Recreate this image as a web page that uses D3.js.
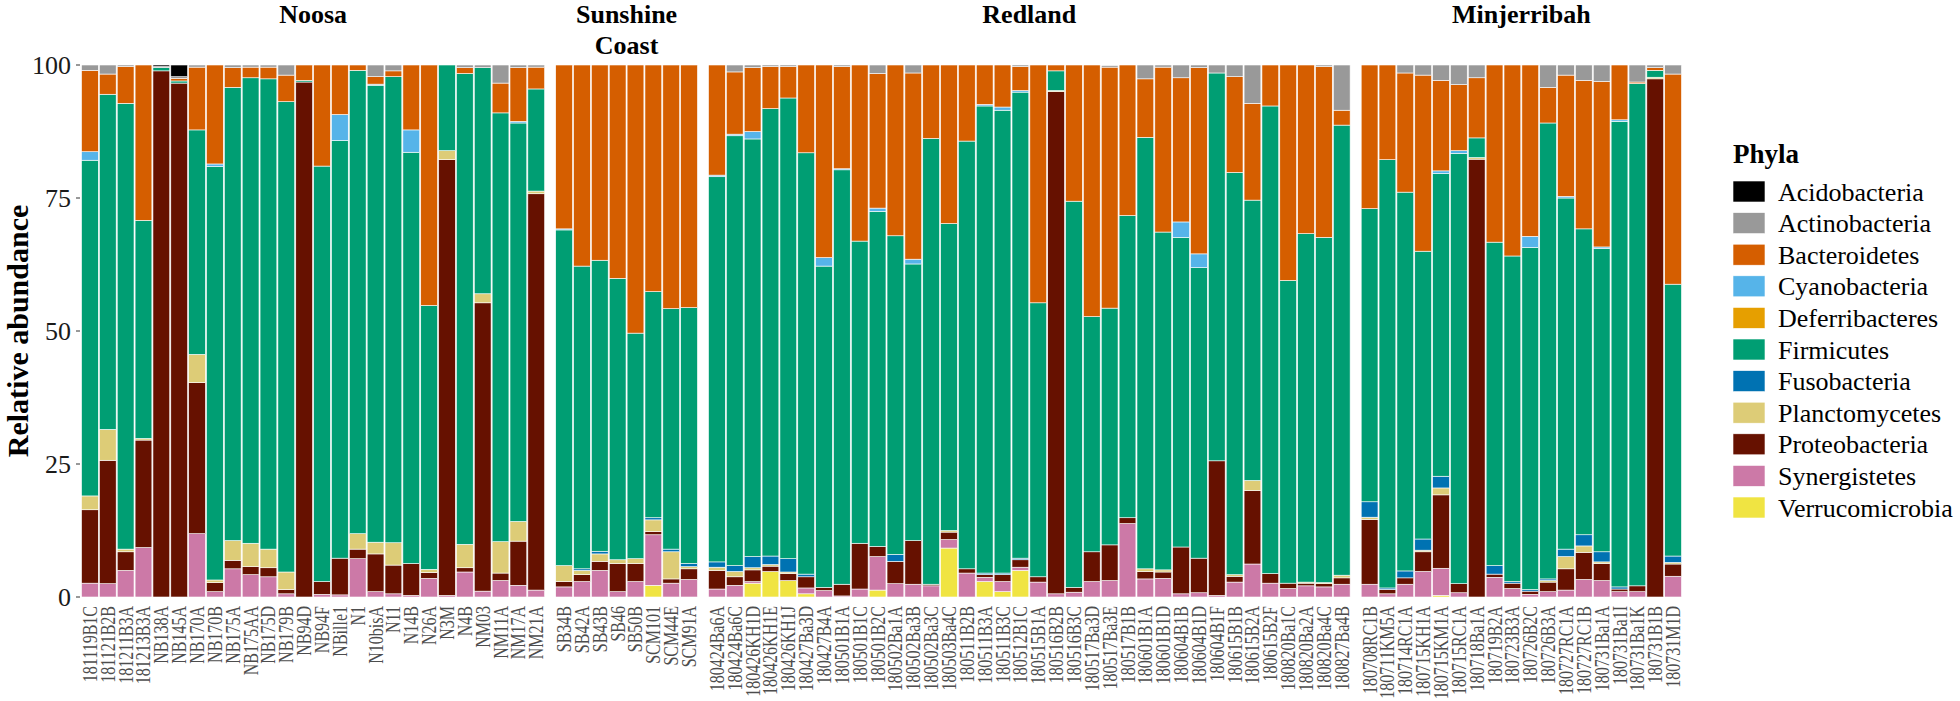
<!DOCTYPE html>
<html><head><meta charset="utf-8">
<script src="https://cdn.jsdelivr.net/npm/d3@7"></script>
<style>body{margin:0;background:#fff}</style>
</head><body><svg id="chart" width="1960" height="701"></svg>
<script>
// ---------- DATA ----------
const siteNames = ["Noosa", "Sunshine Coast", "Redland", "Minjerribah"];
const noosaSamples = ["181119B1C","181121B2B","181211B3A","181213B3A","NB138A","NB145A","NB170A","NB170B","NB175A","NB175AA","NB175D","NB179B","NB94D","NB94F","NBille1","N1","N10bisA","N11","N14B","N26A","N3M","N4B","NM03","NM11A","NM17A","NM21A"];
const sunshineSamples = ["SB34B","SB42A","SB43B","SB46","SB50B","SCM101","SCM44E","SCM91A"];
const redlandSamples = ["180424Ba6A","180424Ba6C","180426KH1D","180426KH1E","180426KH1J","180427Ba3D","180427B4A","180501B1A","180501B1C","180501B2C","180502Ba1A","180502Ba3B","180502Ba3C","180503Ba4C","180511B2B","180511B3A","180511B3C","180512B1C","180515B1A","180516B2B","180516B3C","180517Ba3D","180517Ba3E","180517B1B","180601B1A","180601B1D","180604B1B","180604B1D","180604B1F","180615B1B","180615B2A","180615B2F","180820Ba1C","180820Ba2A","180820Ba4C","180827Ba4B"];
const minjerribahSamples = ["180708RC1B","180711KM5A","180714RC1A","180715KH1A","180715KM1A","180715RC1A","180718Ba1A","180719B2A","180723B3A","180726B2C","180726B3A","180727RC1A","180727RC1B","180731Ba1A","180731Ba1I","180731Ba1K","180731B1B","180731M1D"];

const phyla = ["Acidobacteria","Actinobacteria","Bacteroidetes","Cyanobacteria","Deferribacteres","Firmicutes","Fusobacteria","Planctomycetes","Proteobacteria","Synergistetes","Verrucomicrobia"];
const phylaColors = ["#000000","#999999","#D55E00","#56B4E9","#E69F00","#009E73","#0072B2","#DDCC77","#661100","#CC79A7","#F0E442"];
const yTicks = [0, 25, 50, 75, 100];

// Relative abundance (%) per phylum, samples in order: Noosa | Sunshine Coast | Redland | Minjerribah
const acidobacteria = [
  0,0,0,0,0.3,2.2,0,0,0,0,0,0,0,0,0,0,0,0,0,0,0,0,0,0,0,0,
  0,0,0,0,0,0,0,0,
  0,0,0,0,0,0,0,0,0,0,0,0,0,0,0,0,0,0,0,0,0,0,0,0,0,0,0,0,0,0,0,0,0,0,0,0,
  0,0,0,0,0,0,0,0,0,0,0,0,0,0,0,0,0,0];
const actinobacteria = [
  1.0,1.7,0.3,0,0.2,0.3,0.4,0,0.5,0.4,0.4,1.9,0,0,0,0,2.2,1.1,0,0,0,0.5,0.5,3.4,0.5,0.4,
  0,0,0,0,0,0,0,0,
  0,1.3,0.5,0.3,0.3,0,0,0.3,0,1.6,0,1.5,0,0,0,0,0,0.3,0,0,0,0,0.3,0,2.6,0.4,2.4,0.5,1.5,2.2,7.2,0,0,0,0.3,8.5,
  0,0,1.5,1.9,2.9,3.7,2.4,0,0,0,4.2,1.9,2.9,3.1,0,3.2,0.5,1.7];
const bacteroidetes = [
  15.3,3.8,6.9,29.2,0,0.5,11.8,18.6,3.7,2.0,2.2,5.0,2.9,19.0,9.3,1.0,1.4,1.1,12.2,45.2,0,1.1,0,5.6,10.1,4.1,
  30.8,37.8,36.7,40.1,50.4,42.6,45.8,45.6,
  20.7,11.7,12.0,7.9,5.9,16.5,36.2,19.2,33.1,25.3,32.1,35.0,13.8,29.8,14.3,7.4,7.9,4.5,44.7,1.1,25.6,47.3,45.3,28.3,11.0,31.0,27.1,35.0,0,18.0,18.2,7.7,40.5,31.7,32.1,2.8,
  27.0,17.8,22.4,33.1,17.0,12.4,11.3,33.3,35.9,32.2,6.7,22.8,27.9,31.1,10.3,0.3,0.5,39.5];
const cyanobacteria = [
  1.6,0,0,0,0,0,0,0.5,0,0,0,0,0,0,4.9,0,0.2,0,4.2,0,0,0,0,0,0.3,0,
  0.2,0,0,0,0,0,0,0,
  0.3,0.3,1.4,0,0,0,1.6,0.2,0,0.6,0,0.9,0,0,0,0.3,0.6,0.3,0,0,0,0,0,0,0,0,2.9,2.6,0,0,0,0,0,0,0,0,
  0,0,0,0,0.5,0.5,0,0,0,2.1,0,0.3,0,0.3,0.3,0,0,0];
const deferribacteres = [
  0,0,0,0,0,0,0,0,0,0,0,0,0,0,0,0,0,0,0,0,0,0,0,0,0,0,
  0,0,0,0,0,0,0,0,
  0,0,0,0,0,0,0,0,0,0,0,0,0,0,0,0,0,0,0,0,0,0,0,0,0,0,0,0,0,0,0,0,0,0,0,0,
  0,0,0,0,0,0,0,0,0,0,0,0,0,0,0,0,0,0];
const firmicutes = [
  63.1,63.0,83.8,41.0,0.6,0.4,42.2,77.7,85.2,87.5,88.4,88.4,0.3,78.1,78.5,87.1,85.9,87.6,77.3,49.6,16.1,88.5,42.5,80.6,74.9,19.2,
  63.1,56.9,54.7,52.9,42.4,42.5,45.2,48.1,
  72.4,80.8,78.5,84.1,86.6,79.2,60.4,77.9,56.8,63.0,59.9,52.0,83.8,57.7,80.4,87.8,87.0,87.6,51.5,3.7,72.6,44.2,44.5,56.8,81.1,63.5,58.2,54.6,72.9,75.6,52.7,87.9,56.9,65.5,64.9,84.6,
  55.1,80.5,71.2,54.1,56.9,80.9,3.7,60.8,61.2,64.3,85.7,66.0,57.5,57.0,87.5,94.4,1.3,51.1];
const fusobacteria = [
  0,0,0,0,0,0,0,0,0,0,0,0,0,0,0,0,0,0,0,0,0,0,0,0,0,0,
  0,0.3,0.5,0,0,0.4,0.5,0.6,
  1.0,1.1,2.1,1.6,2.5,0.5,0,0,0,0,1.3,0,0,0,0,0.3,0.3,0.3,0,0,0,0,0,0,0,0,0,0,0,0,0,0,0,0,0,0,
  2.9,0.3,1.3,2.1,2.2,0,0,1.6,0.3,0.3,0.3,1.4,2.1,1.9,0.4,0,0,1.2];
const planctomycetes = [
  2.6,5.8,0.5,0.3,0,0,5.3,0.5,3.7,4.4,3.5,3.3,0,0,0,2.9,2.2,4.2,0,0.6,1.7,4.4,1.7,5.9,3.7,0.5,
  3.0,0.8,1.4,0.7,0.9,2.2,5.1,0.4,
  0.6,1.0,0.4,0.3,0.3,0,0,0,0,0,0,0,0,0.3,0,0,0,0,0,0.2,0,0,0,0,0.5,0.4,0,0,0,0.3,1.9,0,0,0.2,0.2,0.5,
  0.4,0,0,0.3,1.3,0,0.3,0,0,0,0.3,2.3,1.2,0.3,0,0,0.3,0.3];
const proteobacteria = [
  13.8,23.2,3.5,20.2,98.9,96.6,28.4,1.7,1.6,1.5,1.7,0.8,96.8,2.4,6.9,1.8,7.1,5.4,6.0,1.1,81.9,0.8,54.2,1.4,8.3,74.5,
  1.0,1.3,1.7,5.3,3.4,0.6,0.8,2.0,
  3.5,1.6,2.2,1.0,1.3,2.1,0.6,2.2,8.6,1.9,4.2,8.2,0.3,1.4,0.8,0.5,1.3,1.4,1.0,94.4,0.9,5.6,6.7,1.1,1.4,1.2,8.8,6.5,25.3,1.1,13.8,1.8,1.0,0.5,0.6,1.2,
  12.2,0.8,1.2,3.7,13.8,1.7,82.3,0.6,1.0,0.6,1.8,4.0,5.1,3.2,0.5,1.1,97.4,2.3];
const synergistetes = [
  2.6,2.5,5.0,9.3,0,0,11.9,1.0,5.3,4.2,3.8,0.6,0,0.5,0.4,7.2,1.0,0.6,0.3,3.5,0.3,4.7,1.1,3.1,2.2,1.3,
  1.9,2.9,5.0,1.0,2.9,9.5,2.6,3.3,
  1.5,2.2,0.3,0,0,1.1,1.2,0.2,1.5,6.3,2.5,2.4,2.1,1.6,4.5,0.8,1.9,0.6,2.8,0.6,0.9,2.9,3.1,13.8,3.4,3.5,0.6,0.8,0.3,2.8,6.2,2.6,1.6,2.1,1.9,2.4,
  2.4,0.6,2.4,4.8,5.1,0.8,0,3.7,1.6,0.5,1.0,1.3,3.3,3.1,1.0,1.0,0,3.9];
const verrucomicrobia = [
  0,0,0,0,0,0,0,0,0,0,0,0,0,0,0,0,0,0,0,0,0,0,0,0,0,0,
  0,0,0,0,0,2.2,0,0,
  0,0,2.6,4.8,3.1,0.6,0,0,0,1.3,0,0,0,9.2,0,2.9,1.0,5.0,0,0,0,0,0,0,0,0,0,0,0,0,0,0,0,0,0,0,
  0,0,0,0,0.3,0,0,0,0,0,0,0,0,0,0,0,0,0];

// ---------- ASSEMBLY ----------
const siteSamples = [noosaSamples, sunshineSamples, redlandSamples, minjerribahSamples];
const phylaValues = [acidobacteria, actinobacteria, bacteroidetes, cyanobacteria, deferribacteres,
  firmicutes, fusobacteria, planctomycetes, proteobacteria, synergistetes, verrucomicrobia];

const rows = [];
siteSamples.forEach((arr, si) => arr.forEach(s => rows.push({sample: s, site: siteNames[si]})));
rows.forEach((r, i) => phyla.forEach((p, k) => r[p] = phylaValues[k][i]));

const colorScale = d3.scaleOrdinal().domain(phyla).range(phylaColors);

const svg = d3.select("#chart");
svg.append("rect").attr("width", 1960).attr("height", 701).attr("fill", "#fff");

const plotTop = 65, plotBottom = 597;
const plotLeft = 81, plotRight = 1682, panelGap = 10;
const y = d3.scaleLinear().domain([0, 100]).range([plotBottom, plotTop]);

const nTotal = rows.length;
const unit = (plotRight - plotLeft - panelGap * (siteNames.length - 1)) / nTotal;

const stack = d3.stack().keys(phyla.slice().reverse());
const serif = "'Liberation Serif','Times New Roman',serif";

let x0 = plotLeft;
siteNames.forEach((site, si) => {
  const samples = siteSamples[si];
  const x1 = x0 + unit * samples.length;
  const xb = d3.scaleBand().domain(samples).range([x0, x1]).paddingInner(0.06).paddingOuter(0.03);
  const siteRows = rows.filter(r => r.site === site);
  const series = stack(siteRows);
  const g = svg.append("g");
  g.selectAll("g.layer").data(series).join("g")
    .attr("fill", d => colorScale(d.key))
    .selectAll("rect").data(d => d.filter(e => e[1] - e[0] > 0)).join("rect")
      .attr("x", d => xb(d.data.sample))
      .attr("width", xb.bandwidth())
      .attr("y", d => y(d[1]))
      .attr("height", d => y(d[0]) - y(d[1]))
      .attr("stroke", "#fff").attr("stroke-width", 0.6);

  // x labels
  g.selectAll("text.xl").data(samples).join("text")
    .attr("transform", d => `translate(${xb(d) + xb.bandwidth() / 2},606) rotate(-90) scale(0.8,1)`)
    .attr("text-anchor", "end").attr("dy", "0.35em")
    .attr("font-family", serif).attr("font-size", 20).attr("fill", "#4d4d4d")
    .text(d => d);

  // facet titles
  const cx = (x0 + x1) / 2;
  const words = site === "Sunshine Coast" ? ["Sunshine", "Coast"] : [site];
  words.forEach((w, wi) => {
    svg.append("text").attr("x", cx).attr("y", 23 + wi * 31)
      .attr("text-anchor", "middle").attr("font-family", serif)
      .attr("font-weight", "bold").attr("font-size", 26).attr("fill", "#000").text(w);
  });
  x0 = x1 + panelGap;
});

// y axis
const ya = svg.append("g");
yTicks.forEach(t => {
  ya.append("line").attr("x1", 76).attr("x2", 80).attr("y1", y(t)).attr("y2", y(t))
    .attr("stroke", "#333").attr("stroke-width", 1);
  ya.append("text").attr("x", 71).attr("y", y(t)).attr("dy", "0.35em")
    .attr("text-anchor", "end").attr("font-family", serif).attr("font-size", 26)
    .attr("fill", "#1a1a1a").text(t);
});
svg.append("text")
  .attr("transform", `translate(17,${(plotTop + plotBottom) / 2}) rotate(-90)`)
  .attr("text-anchor", "middle").attr("dy", "0.35em")
  .attr("font-family", serif).attr("font-weight", "bold").attr("font-size", 30)
  .text("Relative abundance");

// legend
const lg = svg.append("g").attr("transform", "translate(1733,0)");
lg.append("text").attr("x", 0).attr("y", 163).attr("font-family", serif)
  .attr("font-weight", "bold").attr("font-size", 27).text("Phyla");
phyla.forEach((p, i) => {
  const yy = 181 + i * 31.6;
  lg.append("rect").attr("x", 0).attr("y", yy).attr("width", 32).attr("height", 21)
    .attr("fill", colorScale(p)).attr("stroke", "#fff").attr("stroke-width", 0.6);
  lg.append("text").attr("x", 45).attr("y", yy + 10.5).attr("dy", "0.35em")
    .attr("font-family", serif).attr("font-size", 26).attr("fill", "#000").text(p);
});
</script></body></html>
